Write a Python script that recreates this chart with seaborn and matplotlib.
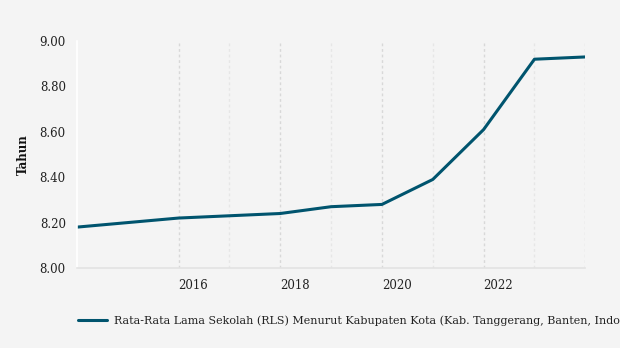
import matplotlib
matplotlib.use("Agg")
import matplotlib.pyplot as plt
from matplotlib.ticker import FixedLocator, FuncFormatter
import matplotlib.transforms as mtransforms
import seaborn as sns
import pandas as pd

years = [2014, 2015, 2016, 2017, 2018, 2019, 2020, 2021, 2022, 2023, 2024]
rls = [8.18, 8.20, 8.22, 8.23, 8.24, 8.27, 8.28, 8.39, 8.61, 8.92, 8.93]
series_name = "Rata-Rata Lama Sekolah (RLS) Menurut Kabupaten Kota (Kab. Tanggerang, Banten, Indonesia)"
x_labels = [2016, 2018, 2020, 2022]

df = pd.DataFrame({"Tahun": years, "RLS": rls, "Seri": series_name})

sns.set_theme(style="white")
plt.rcParams["font.family"] = ["DejaVu Serif"]

bg = "#f4f4f4"
fig = plt.figure(figsize=(6.2, 3.48), dpi=100, facecolor=bg)
ax = fig.add_axes([0.124, 0.230, 0.820, 0.652], facecolor=bg)

sns.lineplot(data=df, x="Tahun", y="RLS", hue="Seri", palette=["#00546e"],
             linewidth=2.2, ax=ax, legend=True)

ax.set_xlim(2014, 2024)
ax.set_ylim(8.0, 9.0)
ax.set_yticks([8.0, 8.2, 8.4, 8.6, 8.8, 9.0])
ax.yaxis.set_major_formatter(FuncFormatter(lambda v, p: f"{v:.2f}"))

ax.xaxis.set_major_locator(FixedLocator([2016, 2018, 2020, 2022, 2024]))
ax.xaxis.set_minor_locator(FixedLocator([2017, 2019, 2021, 2023]))
ax.xaxis.set_major_formatter(FuncFormatter(lambda v, p: str(int(v)) if int(v) in x_labels else ""))
shift = mtransforms.ScaledTranslation(3 / 100, 0, fig.dpi_scale_trans)
for lab in ax.get_xticklabels():
    lab.set_ha("left")
    lab.set_transform(lab.get_transform() + shift)

ax.grid(axis="x", which="major", color="#d8d8d8", linestyle=(0, (2, 2)), linewidth=1)
ax.grid(axis="x", which="minor", color="#e6e6e6", linestyle=(0, (2, 2)), linewidth=1)
ax.grid(axis="y", visible=False)

ax.tick_params(axis="x", which="major", length=5, color="#dddddd", labelsize=8.5,
               labelcolor="#222222", pad=3)
ax.tick_params(axis="x", which="minor", length=0)
ax.tick_params(axis="y", length=4, color="white", labelsize=8.5, labelcolor="#222222", pad=4)

for s in ["top", "right"]:
    ax.spines[s].set_visible(False)
ax.spines["left"].set_color("white")
ax.spines["left"].set_linewidth(1.2)
ax.spines["bottom"].set_color("#e2e2e2")
ax.spines["bottom"].set_linewidth(1.2)

ax.set_xlabel("")
ax.set_ylabel("Tahun", fontsize=8.5, fontweight="bold", color="#111111", labelpad=7)

handles, labels = ax.get_legend_handles_labels()
ax.legend_.remove()
fig.legend(handles, labels, loc="center left", bbox_to_anchor=(0.11, 0.078),
           frameon=False, fontsize=8, handlelength=2.6, handletextpad=0.6,
           labelcolor="#222222")

fig.savefig("out.png", dpi=100, facecolor=bg)
